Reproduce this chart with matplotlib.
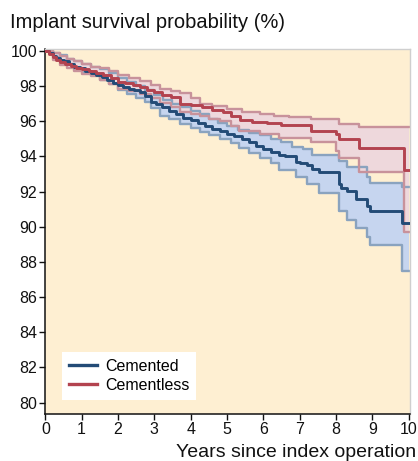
import numpy as np
import matplotlib
matplotlib.use("Agg")
import matplotlib.pyplot as plt

plt.rcParams['font.family'] = ['Liberation Sans', 'DejaVu Sans']

# Kaplan-Meier style steps (years, survival %)
cemented_t = [0, 0.1, 0.2, 0.3, 0.4, 0.5, 0.65, 0.8, 0.95, 1.1, 1.25, 1.4, 1.55, 1.7, 1.85,
              2.0, 2.15, 2.3, 2.45, 2.6, 2.75, 2.9, 3.05, 3.2, 3.4, 3.6, 3.8, 4.0, 4.2, 4.4,
              4.6, 4.8, 5.0, 5.2, 5.4, 5.6, 5.8, 6.0, 6.2, 6.44, 6.6, 6.89, 7.0, 7.2, 7.35,
              7.53, 8.08, 8.15, 8.31, 8.54, 8.86, 8.95, 9.82]
cemented_v = [100, 99.85, 99.7, 99.6, 99.5, 99.4, 99.25, 99.1, 99.0, 98.85, 98.75, 98.65, 98.5,
              98.35, 98.2, 98.05, 97.95, 97.85, 97.75, 97.65, 97.45, 97.1, 97.0, 96.8, 96.6,
              96.4, 96.2, 96.05, 95.9, 95.7, 95.55, 95.45, 95.3, 95.15, 95.0, 94.8, 94.6, 94.4,
              94.25, 94.05, 94.0, 93.7, 93.65, 93.5, 93.3, 93.1, 92.45, 92.2, 92.05, 91.6, 91.2,
              90.9, 90.2]

cemented_hi_t = [0, 0.2, 0.4, 0.6, 0.8, 1.0, 1.25, 1.5, 1.75, 2.0, 2.25, 2.5, 2.75, 3.0, 3.25,
                 3.5, 3.75, 4.0, 4.25, 4.5, 4.75, 5.0, 5.3, 5.6, 5.9, 6.2, 6.5, 6.8, 7.1, 7.35,
                 8.08, 8.31, 8.86, 8.95, 9.82]
cemented_hi_v = [100, 99.9, 99.75, 99.55, 99.4, 99.25, 99.1, 98.95, 98.75, 98.45, 98.25, 98.0,
                 97.75, 97.5, 97.2, 97.0, 96.8, 96.6, 96.4, 96.15, 95.9, 95.7, 95.5, 95.35, 95.2,
                 95.0, 94.8, 94.55, 94.4, 94.05, 93.75, 93.4, 92.8, 92.5, 92.25]

cemented_lo_t = [0, 0.2, 0.4, 0.6, 0.8, 1.0, 1.25, 1.5, 1.75, 2.0, 2.25, 2.5, 2.75, 2.9, 3.15,
                 3.4, 3.7, 4.0, 4.25, 4.5, 4.8, 5.1, 5.34, 5.6, 5.9, 6.2, 6.44, 6.89, 7.2, 7.53,
                 8.08, 8.31, 8.54, 8.86, 8.95, 9.82]
cemented_lo_v = [100, 99.65, 99.45, 99.25, 99.05, 98.8, 98.6, 98.35, 98.1, 97.75, 97.55, 97.3,
                 97.1, 96.75, 96.3, 96.1, 95.85, 95.6, 95.4, 95.2, 95.0, 94.75, 94.5, 94.2, 93.9,
                 93.6, 93.25, 92.8, 92.4, 91.9, 90.9, 90.4, 89.9, 89.4, 88.95, 87.5]

cementless_t = [0, 0.1, 0.2, 0.3, 0.4, 0.55, 0.7, 0.85, 1.0, 1.2, 1.4, 1.6, 1.8, 2.0, 2.2, 2.4,
                2.6, 2.8, 3.0, 3.2, 3.45, 3.7, 4.0, 4.3, 4.6, 4.9, 5.1, 5.35, 5.7, 6.1, 6.5,
                7.31, 7.99, 8.08, 8.63, 9.86]
cementless_v = [100, 99.8, 99.65, 99.5, 99.35, 99.25, 99.15, 99.05, 98.95, 98.85, 98.75, 98.6,
                98.45, 98.25, 98.15, 98.05, 97.95, 97.8, 97.65, 97.5, 97.35, 97.0, 96.9, 96.8,
                96.65, 96.5, 96.3, 96.05, 95.95, 95.9, 95.8, 95.47, 95.3, 95.0, 94.5, 93.2]

cementless_hi_t = [0, 0.2, 0.4, 0.6, 0.8, 1.0, 1.25, 1.5, 1.75, 2.0, 2.3, 2.6, 2.9, 3.15, 3.45,
                   3.7, 4.0, 4.25, 4.6, 5.0, 5.4, 5.9, 6.3, 6.7, 7.31, 8.08, 8.63]
cementless_hi_v = [100, 99.85, 99.7, 99.55, 99.4, 99.25, 99.1, 99.0, 98.85, 98.65, 98.45, 98.3,
                   98.05, 97.85, 97.7, 97.6, 97.3, 97.0, 96.85, 96.7, 96.55, 96.4, 96.3, 96.25,
                   96.1, 95.85, 95.65]

cementless_lo_t = [0, 0.2, 0.4, 0.6, 0.8, 1.0, 1.25, 1.5, 1.75, 2.0, 2.3, 2.6, 2.9, 3.15, 3.45,
                   3.7, 4.0, 4.25, 4.5, 4.8, 5.1, 5.34, 5.9, 6.44, 7.31, 7.99, 8.08, 8.63, 9.86]
cementless_lo_v = [100, 99.5, 99.2, 99.0, 98.85, 98.7, 98.55, 98.35, 98.1, 97.85, 97.7, 97.55,
                   97.3, 97.05, 96.8, 96.5, 96.4, 96.3, 96.15, 96.0, 95.75, 95.45, 95.25, 95.05,
                   94.8, 94.3, 93.9, 93.1, 89.7]

END_YEAR = 10.0

series = [
    ("Cemented", cemented_t, cemented_v, cemented_lo_t, cemented_lo_v, cemented_hi_t,
     cemented_hi_v, "#234b76", "#c6d5ef", "#8aa3bf"),
    ("Cementless", cementless_t, cementless_v, cementless_lo_t, cementless_lo_v,
     cementless_hi_t, cementless_hi_v, "#b3434f", "#eed8dc", "#c8929b"),
]


def extend(t, v):
    """Carry the last value of a step curve out to the end of follow-up."""
    return np.append(t, END_YEAR), np.append(v, v[-1])


def step_value(t, v, grid):
    """Value of a right-continuous step curve at each grid time."""
    idx = np.searchsorted(t, grid, side="right") - 1
    return np.asarray(v)[idx]


fig = plt.figure(figsize=(4.18, 4.61), dpi=100)
ax = fig.add_axes([0.1085, 0.102, 0.8725, 0.7915])
ax.set_facecolor("#feefd2")

# confidence bands first, then their edges, then the survival curves on top
for name, t, v, lo_t, lo_v, hi_t, hi_v, line_c, fill_c, edge_c in series:
    grid = np.unique(np.concatenate([lo_t, hi_t, [END_YEAR]]))
    lo = step_value(lo_t, lo_v, grid)
    hi = step_value(hi_t, hi_v, grid)
    ax.fill_between(grid, lo, hi, step="post", color=fill_c, linewidth=0, zorder=1)

for name, t, v, lo_t, lo_v, hi_t, hi_v, line_c, fill_c, edge_c in series:
    for bt, bv in ((lo_t, lo_v), (hi_t, hi_v)):
        xt, yv = extend(bt, bv)
        ax.step(xt, yv, where="post", color=edge_c, linewidth=1.7, zorder=2)

for name, t, v, lo_t, lo_v, hi_t, hi_v, line_c, fill_c, edge_c in series:
    xt, yv = extend(t, v)
    ax.step(xt, yv, where="post", color=line_c, linewidth=2.1, zorder=3, label=name)

ax.set_xlim(0, 10.04)
ax.set_ylim(79.35, 100.1)
ax.set_xticks(range(0, 11))
ax.set_yticks(range(80, 101, 2))
ax.tick_params(labelsize=11.5, length=4, width=1, colors="#111111", pad=2)

for side in ("left", "bottom"):
    ax.spines[side].set_color("#111111")
    ax.spines[side].set_linewidth(1.1)
for side in ("top", "right"):
    ax.spines[side].set_color("#cfcfcf")
    ax.spines[side].set_linewidth(1.0)

leg = ax.legend(loc="lower left", bbox_to_anchor=(0.045, 0.038), borderaxespad=0,
                fontsize=11.5, frameon=True, fancybox=False, framealpha=1,
                handlelength=1.75, borderpad=0.45, labelspacing=0.25, handletextpad=0.5)
leg.get_frame().set_facecolor("white")
leg.get_frame().set_edgecolor("none")
for line in leg.get_lines():
    line.set_linewidth(2.4)

fig.text(0.024, 0.952, "Implant survival probability (%)", fontsize=14.5, ha="left",
         va="center", color="#111111")
fig.text(0.996, 0.019, "Years since index operation", fontsize=14, ha="right", va="center",
         color="#111111")

fig.savefig("out.png", dpi=100)
